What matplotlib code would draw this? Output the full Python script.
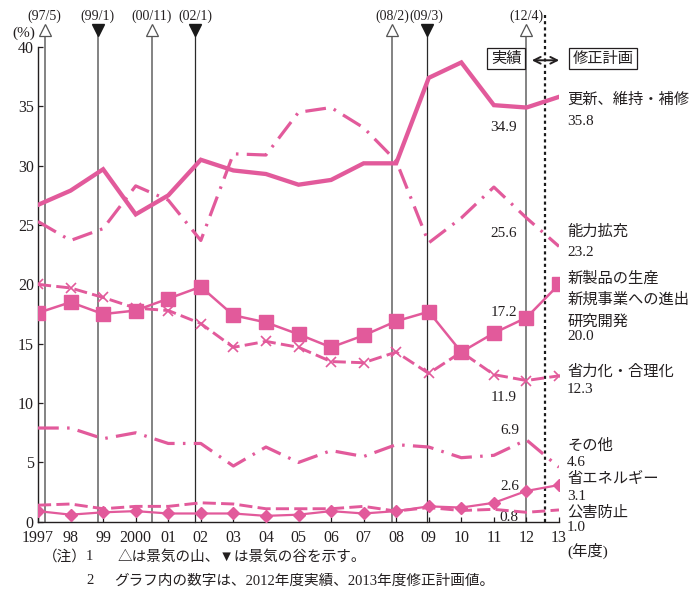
import matplotlib
matplotlib.use("Agg")
import matplotlib.pyplot as plt

plt.rcParams['font.family'] = ['Liberation Serif', 'Noto Sans CJK JP', 'DejaVu Sans']

# Fiscal years (1997 .. 2013; 2013 is the revised plan)
years = list(range(1997, 2014))
year_labels = ['1997', '98', '99', '2000', '01', '02', '03', '04', '05', '06',
               '07', '08', '09', '10', '11', '12', '13']

# Share of investment by purpose (%)
renewal = [26.7, 27.9, 29.7, 25.9, 27.5, 30.5, 29.6, 29.3, 28.4, 28.8,
           30.2, 30.2, 37.4, 38.7, 35.1, 34.9, 35.8]
capacity = [25.3, 23.7, 24.7, 28.3, 27.1, 23.7, 31.0, 30.9, 34.5, 34.9,
            33.2, 30.4, 23.5, 25.6, 28.2, 25.6, 23.2]
new_products = [17.6, 18.5, 17.5, 17.8, 18.8, 19.8, 17.4, 16.8, 15.8, 14.7,
                15.7, 16.9, 17.7, 14.3, 15.9, 17.2, 20.0]
labor_saving = [20.0, 19.7, 18.9, 18.0, 17.8, 16.7, 14.7, 15.2, 14.7, 13.5,
                13.4, 14.3, 12.5, 14.3, 12.4, 11.9, 12.3]
others = [7.9, 7.9, 7.0, 7.5, 6.6, 6.6, 4.7, 6.3, 5.0, 6.0,
          5.5, 6.5, 6.3, 5.4, 5.6, 6.9, 4.6]
energy_saving = [0.9, 0.6, 0.8, 0.9, 0.7, 0.7, 0.7, 0.5, 0.6, 0.9,
                 0.7, 0.9, 1.3, 1.2, 1.6, 2.6, 3.1]
pollution = [1.4, 1.5, 1.1, 1.3, 1.3, 1.6, 1.5, 1.1, 1.1, 1.1,
             1.3, 0.9, 1.2, 0.95, 1.05, 0.8, 1.0]

# Business-cycle turning points (fiscal-year position on the x axis)
cycle_labels = ['(97/5)', '(99/1)', '(00/11)', '(02/1)', '(08/2)', '(09/3)', '(12/4)']
cycle_pos = [1997.2, 1998.83, 2000.49, 2001.82, 2007.88, 2008.94, 2012.0]
cycle_peak = [True, False, True, False, True, False, True]
plan_boundary = 2012.57

PINK = '#E25A9B'
INK = '#231F20'

fig = plt.figure(figsize=(6.98, 5.90), dpi=100)
ax = fig.add_axes([38 / 698, 1 - 521.8 / 590, 521 / 698, (521.8 - 47) / 590])

ax.set_xlim(1997, 2013)
ax.set_ylim(0, 40)
for s in ['top', 'right']:
    ax.spines[s].set_visible(False)
for s in ['left', 'bottom']:
    ax.spines[s].set_color(INK)
    ax.spines[s].set_linewidth(1.0)

ax.set_xticks(years)
ax.set_xticklabels(year_labels)
ax.set_yticks(range(0, 41, 5))
ax.tick_params(direction='in', length=3.5, width=0.9, colors=INK,
               labelsize=11.5, labelcolor=INK)
ax.tick_params(axis='x', pad=6)
ax.tick_params(axis='y', pad=3)

# Turning-point lines with peak/trough markers
for lab, xp, peak in zip(cycle_labels, cycle_pos, cycle_peak):
    col = '#7a7a7a' if peak or xp < 2000 else '#2a2a2a'
    lw = 1.3 if col == '#7a7a7a' else 0.9
    ax.plot([xp, xp], [0, 41.2], color=col, lw=lw, clip_on=False, zorder=1)
    if peak:
        ax.plot(xp, 41.4, marker='^', ms=8.5, mfc='white', mec='#555555',
                mew=0.9, clip_on=False, zorder=3)
    else:
        ax.plot(xp, 41.4, marker='v', ms=8.5, mfc='#1a1a1a', mec='#1a1a1a',
                clip_on=False, zorder=3)
    ax.text(xp, 42.55, lab, ha='center', va='center', fontsize=10, color=INK,
            clip_on=False)

# Boundary between actual and revised plan
ax.plot([plan_boundary, plan_boundary], [0, 42.7], color='#1a1a1a', lw=1.6,
        ls=(0, (1.4, 1.4)), clip_on=False, zorder=2)

# Series
ax.plot(years, renewal, color=PINK, lw=3.1, zorder=5, solid_joinstyle='miter')
ax.plot(years, capacity, color=PINK, lw=2.3, ls=(0, (6.5, 2.6, 0.8, 2.6)),
        zorder=5)
ax.plot(years, new_products, color=PINK, lw=1.8, marker='s', ms=9.5,
        zorder=6)
ax.plot(years, labor_saving, color=PINK, lw=2.1, ls=(0, (4.5, 1.8)),
        marker='x', ms=7.5, mew=1.2, zorder=6)
ax.plot(years, others, color=PINK, lw=2.3, ls=(0, (6.5, 2.6, 0.8, 2.6)),
        zorder=5)
ax.plot(years, energy_saving, color=PINK, lw=1.6, marker='D', ms=6.5,
        zorder=6)
ax.plot(years, pollution, color=PINK, lw=2.1, ls=(0, (4.5, 1.8)), zorder=5)

# Series names and planned values at the right edge
xr = 2013.25
right_labels = [
    ('更新、維持・補修', 35.53), (f'{renewal[-1]:.1f}', 33.71),
    ('能力拡充', 24.44), (f'{capacity[-1]:.1f}', 22.67),
    ('新製品の生産', 20.51), ('新規事業への進出', 18.69), ('研究開発', 16.86),
    (f'{new_products[-1]:.1f}', 15.59),
    ('省力化・合理化', 12.65), (f'{labor_saving[-1]:.1f}', 11.16),
    ('その他', 6.39), (f'{others[-1]:.1f}', 4.98),
    ('省エネルギー', 3.58), (f'{energy_saving[-1]:.1f}', 2.11),
    ('公害防止', 0.77), (f'{pollution[-1]:.1f}', -0.46),
    ('(年度)', -2.43),
]
for txt, yv in right_labels:
    ax.text(xr, yv, txt, ha='left', va='center', fontsize=11, color=INK,
            clip_on=False)

# 2012 actual values
inline = [
    (renewal[-2], 2011.71, 33.2),
    (capacity[-2], 2011.71, 24.3),
    (new_products[-2], 2011.71, 17.62),
    (labor_saving[-2], 2011.71, 10.49),
    (others[-2], 2011.78, 7.67),
    (energy_saving[-2], 2011.78, 2.96),
    (pollution[-2], 2011.74, 0.38),
]
for v, xv, yv in inline:
    ax.text(xv, yv, f'{v:.1f}', ha='right', va='center', fontsize=11,
            color=INK, clip_on=False)

# Actual / revised plan headers
box = dict(boxstyle='square,pad=0.25', fc='white', ec=INK, lw=0.9)
ax.text(2011.38, 39.03, '実績', ha='center', va='center', fontsize=11,
        color=INK, bbox=box, clip_on=False, zorder=8)
ax.text(2014.35, 39.03, '修正計画', ha='center', va='center', fontsize=11,
        color=INK, bbox=box, clip_on=False, zorder=8)
ax.annotate('', xy=(2013.09, 38.88), xytext=(2012.08, 38.88),
            arrowprops=dict(arrowstyle='<->', color=INK, lw=1.4,
                            mutation_scale=12), annotation_clip=False, zorder=8)

ax.text(1996.57, 41.18, '(%)', ha='center', va='center', fontsize=11,
        color=INK, clip_on=False)

# Notes
y1 = 1 - 557 / 590
y2 = 1 - 581 / 590
fig.text(43 / 698, y1, '（注）', ha='left', va='center', fontsize=10.5, color=INK)
fig.text(86 / 698, y1, '1', ha='left', va='center', fontsize=10.5, color=INK)
fig.text(118 / 698, y1, '△は景気の山、▼は景気の谷を示す。',
         ha='left', va='center', fontsize=10.5, color=INK)
fig.text(86 / 698, y2, '2', ha='left', va='center', fontsize=10.5, color=INK)
fig.text(114 / 698, y2,
         'グラフ内の数字は、2012年度実績、2013年度修正計画値。',
         ha='left', va='center', fontsize=10.5, color=INK)

fig.savefig('out.png', dpi=100)
